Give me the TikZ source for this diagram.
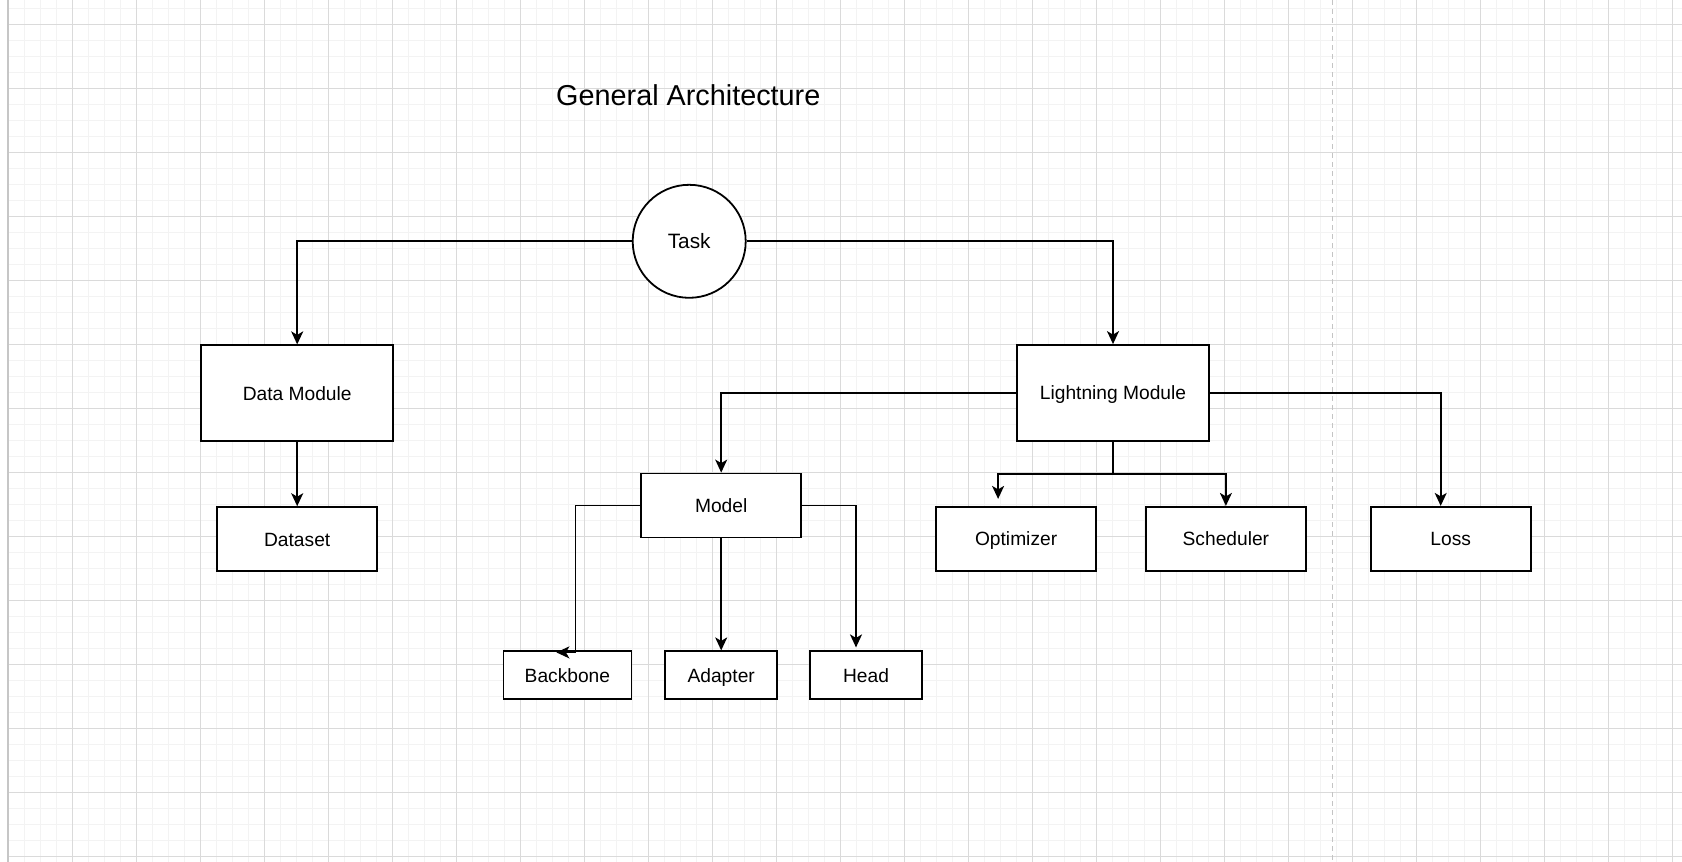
\documentclass[tikz,border=0pt]{standalone}
\usepackage{fontspec}
\setmainfont{Liberation Sans}
\usetikzlibrary{arrows.meta,positioning}
\definecolor{gridmajor}{HTML}{DADADA}
\definecolor{gridminor}{HTML}{F3F3F3}
\definecolor{pagebreak}{HTML}{C4C4C4}

\begin{document}
\begin{tikzpicture}[
  x=1pt, y=-1pt,
  node distance=32pt,
  box/.style={draw, fill=white, line width=1.8pt, inner sep=0pt, align=center,
    text height=13.8pt, text depth=0pt, font=\fontsize{19.2}{23}\selectfont},
  bigbox/.style={box, minimum width=192pt, minimum height=96pt},
  midbox/.style={box, minimum width=160pt, minimum height=64pt},
  smallbox/.style={box, minimum width=112pt, minimum height=48pt},
  arr/.style={-{Stealth[length=13pt, width=12pt, inset=3.5pt]}, line width=1.8pt},
  link/.style={line width=1.8pt},
  minor/.style={draw=gridminor, line width=1.2pt},
  major/.style={draw=gridmajor, line width=1.2pt}
]
\useasboundingbox (0,0) rectangle (1682,862);
\fill[white] (0,0) rectangle (1682,862);

% background grid
\foreach \k in {0,...,104} \draw[minor] (8.3+16*\k,0) -- (8.3+16*\k,862);
\foreach \k in {0,...,53} \draw[minor] (9,8.3+16*\k) -- (1682,8.3+16*\k);
\foreach \k in {0,...,26} \draw[major] (8.3+64*\k,0) -- (8.3+64*\k,862);
\foreach \k in {0,...,13} \draw[major] (9,24.3+64*\k) -- (1682,24.3+64*\k);
\draw[gray!45, line width=2pt] (8.3,0) -- (8.3,862);
\draw[pagebreak, line width=1.5pt, dash pattern=on 5pt off 4pt] (1332.3,0) -- (1332.3,862);

\node[font=\fontsize{28.8}{34}\selectfont, anchor=base] (title) at (688.3,105.5) {General Architecture};

\node[circle, draw, fill=white, line width=1.8pt, minimum size=113pt, inner sep=0pt,
  font=\fontsize{20.8}{25}\selectfont] (task) at (689.2,241.3) {Task};

\node[bigbox] (dm) at (297.2,393.3) {Data Module};
\node[midbox, below=64pt of dm] (ds) {Dataset};

\node[bigbox] (lm) at (1113,393) {Lightning Module};

\node[midbox] (model) at (721.2,505.5) {Model};
\node[smallbox, below=112pt of model] (adapter) {Adapter};
\node[smallbox, minimum width=128pt, left=32pt of adapter] (bb) {Backbone};
\node[smallbox, right=31pt of adapter] (head) {Head};

\node[midbox, below=64pt of lm.south west] (opt) {Optimizer};
\node[midbox, right=48pt of opt] (sched) {Scheduler};
\node[midbox, right=63pt of sched] (loss) {Loss};

\draw[arr] (task) -| (dm);
\draw[arr] (task) -| (lm);
\draw[arr] (dm) -- (ds);

\draw[arr] (lm) -| (model);
\draw[arr] (lm) -| ([xshift=-10pt]loss.north);
\draw[link] (lm.south) -- ++(0,32) coordinate (fork);
\draw[arr] (fork) -| ([xshift=-18pt,yshift=7pt]opt.north);
\draw[arr] (fork) -| (sched.north);

\draw[arr] (model) -- (adapter);
\draw[arr] (model) -| ([xshift=-10pt,yshift=3pt]head.north);
\draw[arr] (model) -| ([xshift=8pt,yshift=-2pt]bb.north) -- ([xshift=-11pt,yshift=-2pt]bb.north);
\end{tikzpicture}
\end{document}
